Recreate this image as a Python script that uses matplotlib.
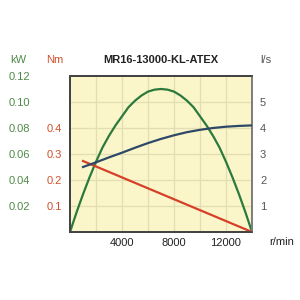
import matplotlib
matplotlib.use("Agg")
import matplotlib.pyplot as plt
import numpy as np

plt.rcParams['font.family'] = ['Liberation Sans', 'DejaVu Sans']

title = "MR16-13000-KL-ATEX"

# Power (kW) vs speed
rpm_kw = [0, 500, 1000, 1500, 2000, 2500, 3000, 3500, 4000, 4500, 5000, 5500, 6000, 6500, 7000,
          7500, 8000, 8500, 9000, 9500, 10000, 10500, 11000, 11500, 12000, 12500, 13000, 13500, 14000]
kw = [0.0, 0.015, 0.029, 0.042, 0.054, 0.065, 0.074, 0.082, 0.089, 0.096, 0.101, 0.105, 0.108, 0.1095, 0.110,
      0.1095, 0.108, 0.105, 0.101, 0.096, 0.089, 0.082, 0.074, 0.065, 0.054, 0.042, 0.029, 0.015, 0.0]

# Torque (Nm) vs speed
rpm_nm = [1000, 14000]
nm = [0.273, 0.0]

# Air consumption (l/s) vs speed
rpm_ls = [1000, 2000, 3000, 4000, 5000, 6000, 7000, 8000, 9000, 10000, 11000, 12000, 13000, 14000]
ls = [2.5, 2.68, 2.87, 3.05, 3.24, 3.42, 3.58, 3.72, 3.84, 3.93, 4.0, 4.05, 4.08, 4.1]

x_ticks = [4000, 8000, 12000]
kw_ticks = [0.02, 0.04, 0.06, 0.08, 0.10, 0.12]
nm_ticks = [0.1, 0.2, 0.3, 0.4]
ls_ticks = [1, 2, 3, 4, 5]

green = '#2b7a3c'
green_txt = '#4f8a48'
red = '#d6402a'
red_txt = '#d0502c'
blue = '#2e4868'
gray_txt = '#555555'

fig = plt.figure(figsize=(3, 3), dpi=100)
ax = fig.add_axes([70/300, 1-232/300, 182/300, 156/300])
ax.set_facecolor('#fbf6c9')
ax.set_xlim(0, 14000)
ax.set_ylim(0, 0.12)

# grid
for gx in range(2000, 14000, 2000):
    ax.axvline(gx, color='#e2ddb3', lw=0.9, zorder=0)
for gy in np.arange(0.02, 0.12, 0.02):
    ax.axhline(gy, color='#e2ddb3', lw=0.9, zorder=0)

ax.plot(rpm_kw, kw, color=green, lw=1.6, zorder=3, solid_joinstyle='round')
ax.set_xticks(x_ticks)
ax.set_xticklabels([str(t) for t in x_ticks])
ax.set_yticks(kw_ticks)
ax.set_yticklabels(['%.2f' % t for t in kw_ticks])
ax.tick_params(axis='y', length=0, pad=40/1.389, labelsize=8, labelcolor=green_txt)
ax.tick_params(axis='x', length=0, pad=4, labelsize=8, labelcolor='#222222')

ax2 = ax.twinx()
ax2.set_ylim(0, 0.6)
ax2.plot(rpm_nm, nm, color=red, lw=1.6, zorder=3)
ax2.yaxis.tick_left()
ax2.set_yticks(nm_ticks)
ax2.set_yticklabels(['%.1f' % t for t in nm_ticks])
ax2.tick_params(axis='y', length=0, pad=8/1.389, labelsize=8, labelcolor=red_txt)

ax3 = ax.twinx()
ax3.set_ylim(0, 6)
ax3.plot(rpm_ls, ls, color=blue, lw=1.6, zorder=3, solid_joinstyle='round')
ax3.set_yticks(ls_ticks)
ax3.set_yticklabels([str(t) for t in ls_ticks])
ax3.tick_params(axis='y', length=0, pad=8/1.389, labelsize=8, labelcolor=gray_txt)

for a in (ax, ax2, ax3):
    for s in a.spines.values():
        s.set_color('#444444')
        s.set_linewidth(1.2)
ax3.spines['right'].set_color('#8a8a8a')

fig.text(18/300, 1-60/300, 'kW', color=green_txt, fontsize=8, ha='center', va='center')
fig.text(55/300, 1-60/300, 'Nm', color=red_txt, fontsize=8, ha='center', va='center')
fig.text(161/300, 1-60/300, title, color='#222222', fontsize=8, fontweight='bold', ha='center', va='center')
fig.text(266/300, 1-60/300, 'l/s', color=gray_txt, fontsize=8, ha='center', va='center')
fig.text(282/300, 1-242/300, 'r/min', color='#222222', fontsize=8, ha='center', va='center')

fig.savefig('out.png', dpi=100, facecolor='white')
